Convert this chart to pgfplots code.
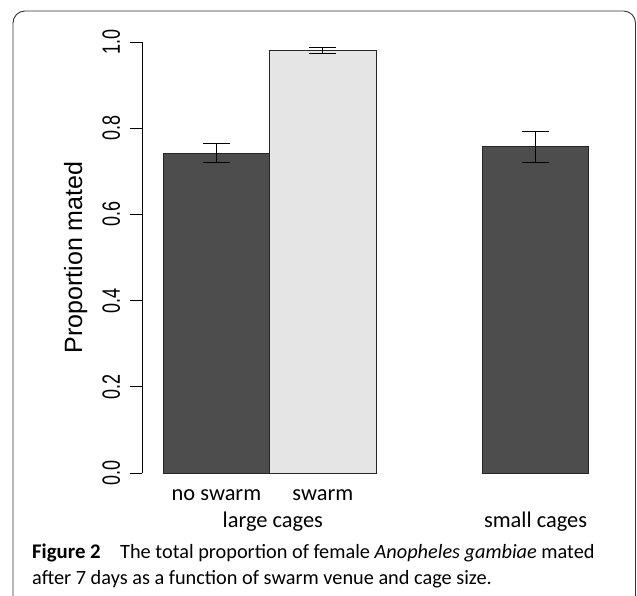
\documentclass[border=0pt]{standalone}
\usepackage{pgfplots}
\pgfplotsset{compat=1.18}
\usepackage{fontspec}
\setmainfont{Carlito}
\newfontfamily\arial{Liberation Sans}
\definecolor{darkbar}{HTML}{4D4D4D}
\definecolor{lightbar}{HTML}{E5E5E5}
\begin{document}
\begin{tikzpicture}[x=1pt,y=1pt]
\useasboundingbox (0,0) rectangle (637,596);
\clip (0,0) rectangle (637,596);
\draw[line width=0.9pt, color=black!80, rounded corners=12pt] (13,-20) -- (13,585) -- (635.5,585) -- (635.5,-20);
\begin{axis}[
  at={(142pt,123pt)}, anchor=south west,
  scale only axis, width=468pt, height=431pt,
  xmin=-0.2, xmax=4.2, ymin=0, ymax=1,
  clip=false,
  axis x line*=bottom, axis y line*=left,
  x axis line style={draw=none},
  y axis line style={line width=0.9pt, black},
  xtick={0.5,1.5,3.5},
  xticklabels={no swarm, swarm, {}},
  xtick style={draw=none},
  xticklabel style={font=\fontsize{22.4}{26}\selectfont, anchor=base, inner sep=0pt},
  xticklabel shift=16pt,
  ytick={0,0.2,0.4,0.6,0.8,1.0},
  yticklabels={\scalebox{0.72}[1]{0.0},\scalebox{0.72}[1]{0.2},\scalebox{0.72}[1]{0.4},\scalebox{0.72}[1]{0.6},\scalebox{0.72}[1]{0.8},\scalebox{0.72}[1]{1.0}},
  yticklabel style={font=\arial\fontsize{25}{30}\selectfont, rotate=90, anchor=base, inner sep=0pt},
  yticklabel shift=10pt,
  tick align=outside,
  major tick length=12pt,
  ytick style={line width=0.9pt, black},
  ylabel={Proportion mated},
  ylabel style={font=\arial\fontsize{25}{30}\selectfont, at={(axis description cs:-0.128,0.5)}, anchor=base, inner sep=0pt, rotate=0},
]
\addplot[ybar, bar width=1, bar shift=0pt, fill=darkbar, draw=black!85, line width=0.9pt,
  error bars/.cd, y dir=both, y explicit,
  error bar style={line width=0.9pt, black},
  error mark options={rotate=90, mark size=13.5pt, line width=0.9pt, black}]
  coordinates {(0.5,0.742) +- (0,0.022) (3.5,0.757) +- (0,0.036)};
\addplot[ybar, bar width=1, bar shift=0pt, fill=lightbar, draw=black!85, line width=0.9pt,
  error bars/.cd, y dir=both, y explicit,
  error bar style={line width=0.9pt, black},
  error mark options={rotate=90, mark size=13.5pt, line width=0.9pt, black}]
  coordinates {(1.5,0.980) +- (0,0.007)};
\node[font=\fontsize{22.4}{26}\selectfont, anchor=base, inner sep=0pt] at (axis cs:1.03,0) [yshift=-55pt] {large cages};
\node[font=\fontsize{22.4}{26}\selectfont, anchor=base, inner sep=0pt] at (axis cs:3.5,0) [yshift=-55pt] {small cages};
\end{axis}
\node[anchor=base west, inner sep=0pt, font=\fontsize{20.8}{24}\selectfont] at (32,37) {\textbf{Figure 2}};
\node[anchor=base west, inner sep=0pt, font=\fontsize{20.3}{24}\selectfont] at (120,37) {The total proportion of female \textit{Anopheles gambiae} mated};
\node[anchor=base west, inner sep=0pt, font=\fontsize{20.3}{24}\selectfont] at (32,11) {after 7 days as a function of swarm venue and cage size.};
\end{tikzpicture}
\end{document}
